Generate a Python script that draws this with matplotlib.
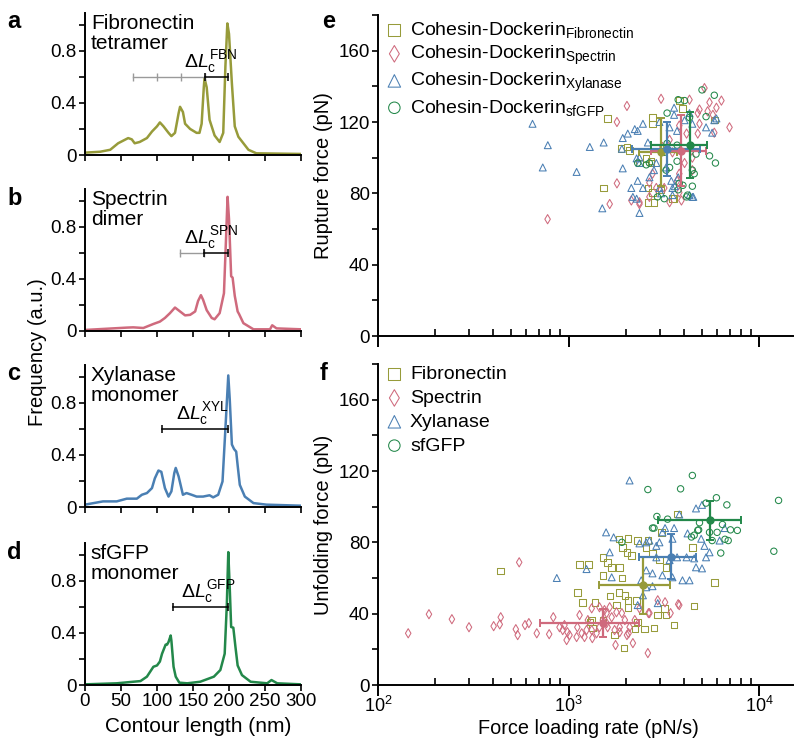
"""
Contour length histograms (a-d) and force vs loading rate scatter (e, f).
"""
import matplotlib
matplotlib.use("Agg")
import matplotlib.pyplot as plt
from matplotlib.ticker import MultipleLocator, LogLocator, NullFormatter

plt.rcParams["font.family"] = ["Liberation Sans", "DejaVu Sans"]
plt.rcParams["mathtext.fontset"] = "custom"
plt.rcParams["mathtext.rm"] = "Liberation Sans"
plt.rcParams["mathtext.it"] = "Liberation Sans:italic"
plt.rcParams["mathtext.bf"] = "Liberation Sans:bold"

OLIVE = "#979b3a"
PINK = "#cf6a7d"
BLUE = "#4a7fb3"
GREEN = "#23884a"

# ---- contour length histograms (nm, a.u.) ----
fbn_x = [0, 21, 35, 46, 60, 65, 69, 76, 86, 93, 100, 104, 109, 116, 120, 125,
         130, 132, 136, 139, 146, 155, 159, 162, 165, 166, 169, 173, 180, 187,
         192, 195, 197.7, 200, 204, 208, 213, 220, 227, 238, 300]
fbn_y = [0.018, 0.025, 0.04, 0.09, 0.13, 0.12, 0.09, 0.10, 0.13, 0.18, 0.22,
         0.25, 0.22, 0.17, 0.145, 0.17, 0.32, 0.37, 0.33, 0.24, 0.20, 0.17,
         0.17, 0.24, 0.52, 0.59, 0.52, 0.27, 0.15, 0.10, 0.17, 0.68, 1.01,
         0.93, 0.55, 0.22, 0.14, 0.09, 0.04, 0.013, 0.008]

spn_x = [0, 58, 67, 81, 95, 104, 111, 118, 125, 132, 139, 146, 153, 157, 161,
         164, 169, 176, 180, 187, 193, 196, 198, 200, 203, 205, 208, 212, 214,
         220, 234, 257, 260, 266, 300]
spn_y = [0.008, 0.026, 0.028, 0.023, 0.054, 0.072, 0.10, 0.137, 0.18, 0.15,
         0.12, 0.124, 0.15, 0.23, 0.275, 0.24, 0.16, 0.10, 0.09, 0.137, 0.29,
         0.73, 1.03, 0.86, 0.42, 0.41, 0.27, 0.15, 0.13, 0.06, 0.013, 0.013,
         0.044, 0.02, 0.013]

xyl_x = [0, 25, 44, 58, 72, 79, 86, 93, 97, 102, 106, 111, 116, 120, 124, 126,
         130, 136, 141, 148, 155, 164, 173, 178, 185, 191, 195, 199, 201, 204,
         207, 210, 212, 215, 222, 234, 252, 300]
xyl_y = [0.018, 0.043, 0.043, 0.064, 0.064, 0.094, 0.107, 0.145, 0.22, 0.28,
         0.27, 0.145, 0.08, 0.12, 0.26, 0.30, 0.235, 0.094, 0.107, 0.094, 0.08,
         0.08, 0.09, 0.074, 0.094, 0.196, 0.60, 1.01, 0.83, 0.48, 0.445, 0.425,
         0.32, 0.17, 0.08, 0.03, 0.018, 0.01]

gfp_x = [0, 44, 67, 77, 86, 95, 100, 104, 107, 112, 114, 116, 119, 120, 123,
         126, 131, 142, 160, 179, 188, 194, 197, 199, 201, 203, 206, 209, 212,
         218, 230, 253, 259, 267, 300]
gfp_y = [0.005, 0.013, 0.025, 0.03, 0.064, 0.14, 0.15, 0.18, 0.24, 0.31, 0.31,
         0.33, 0.38, 0.34, 0.14, 0.064, 0.018, 0.013, 0.025, 0.064, 0.115,
         0.24, 0.62, 1.02, 0.75, 0.445, 0.44, 0.29, 0.15, 0.076, 0.025, 0.013,
         0.038, 0.013, 0.005]

# delta Lc markers (nm): grey = earlier domains, black = last one
fbn_grey = [67, 100, 133, 166]
fbn_black = [166, 199]
spn_grey = [132, 165]
spn_black = [165, 198]
xyl_black = [107, 199]
gfp_black = [122, 199]

# ---- panel e: rupture force (pN) vs loading rate (pN/s) ----
e_fbn_rate = [1525, 1600, 1880, 2020, 2085, 2350, 2550, 2600, 2700, 2750, 2750,
              2750, 2800, 3050, 3240, 3500, 3570, 3800, 3950, 5800, 2700, 2600]
e_fbn_force = [83, 122, 105, 106, 104, 97, 99.6, 83, 97, 80.5, 119, 122.5, 75,
               82, 106, 77, 77, 132, 127.5, 121, 98, 75]
e_spn_rate = [775, 1640, 1790, 1790, 2020, 2130, 2350, 2650, 2750, 2880, 3050,
              3100, 3170, 3380, 3380, 3500, 3700, 3800, 3800, 3800, 3900, 4050,
              4150, 4300, 4450, 4450, 4750, 4750, 4850, 4850, 5150, 5350, 5475,
              5700, 5800, 5950, 6320, 6970, 2650, 2350]
e_spn_force = [65.5, 74, 85.6, 120, 129, 76, 75, 78, 91, 83, 133, 106, 83, 75,
               110, 103, 87, 80.5, 91, 118, 76, 97, 113.5, 132.5, 93, 100,
               113.5, 125, 119, 127, 139, 126, 131, 124, 114, 128, 132, 117,
               86, 74]
e_xyl_rate = [646, 777, 731, 1100, 1290, 1525, 1920, 2040, 1920, 2220, 2450,
              1900, 2350, 2300, 2990, 3570, 4050, 4300, 3380, 3700, 5250, 5800,
              5650, 4450, 2600, 2270, 2350, 2880, 3240, 2300, 2450, 2130, 2170,
              2270, 1500, 2350, 2990, 3500, 3500, 4300, 4450, 3050, 3750, 3450,
              5950, 3570, 2800, 2650, 4500, 3600]
e_xyl_force = [119, 107, 94.5, 92, 106, 108.5, 111, 113.5, 94, 116, 119, 105,
               100, 115, 120, 124, 121, 125, 117, 115, 117, 121, 114, 119,
               108.5, 99.6, 97, 97, 94.5, 87, 83, 83, 78, 77, 71.6, 69, 83, 83,
               79, 79, 78, 80, 89, 87, 122, 128, 93, 89, 78, 84]
e_gfp_rate = [3750, 5000, 5800, 5250, 4650, 5475, 5880, 4550, 3700, 3970, 2300,
              2550, 3240, 4050, 3280, 4300, 3380, 4450, 4200, 3800, 3750, 3170,
              2920, 3280, 3700, 3170, 2650, 4150, 4450]
e_gfp_force = [132.5, 138, 135, 123, 102, 101, 97, 91, 98, 84.5, 97, 96, 93,
               132, 125, 122.5, 94.5, 93, 79, 85.6, 82, 77, 78, 108, 107, 103,
               97, 78, 84]

# means with error bars: rate, force, rate low, rate high, force sd
e_means_rate = [3050, 3900, 3260, 4300]
e_means_force = [103, 104, 105, 107]
e_rate_lo = [2350, 2700, 2150, 2700]
e_rate_hi = [3700, 5250, 4900, 5300]
e_force_err = [19, 20, 15, 18.5]

# ---- panel f: unfolding force (pN) vs loading rate (pN/s) ----
f_fbn_rate = [440, 1110, 1140, 1180, 1270, 1290, 1320, 1330, 1370, 1510, 1510,
              1510, 1600, 1650, 1680, 1740, 1780, 1830, 1830, 1850, 1900, 1920,
              1950, 1970, 2020, 2040, 2040, 2040, 2130, 2220, 2270, 2300, 2300,
              2500, 2550, 2600, 2750, 2800, 2930, 2990, 3070, 3170, 3240, 3240,
              3570, 3720, 4450, 4550, 5800]
f_fbn_force = [63.8, 52, 67.7, 46.4, 67.7, 35.2, 36.4, 31.9, 46.4, 71.6, 61.5,
               36.4, 68.8, 49.8, 66, 28, 44.8, 52, 82, 66, 60, 77, 20.7, 50.3,
               74.4, 47.5, 43.6, 82.2, 72.7, 31.3, 47.5, 81, 35.2, 31.3, 77, 81,
               73.8, 31.9, 39.2, 70, 85.6, 43, 39.2, 66, 33.6, 96, 77, 44.2,
               57.6]
f_spn_rate = [144, 185, 244, 300, 404, 435, 440, 528, 540, 550, 590, 618, 680,
              790, 830, 895, 930, 950, 975, 985, 1010, 1100, 1110, 1140, 1170,
              1210, 1240, 1260, 1320, 1320, 1330, 1400, 1450, 1450, 1510, 1540,
              1580, 1580, 1600, 1640, 1680, 1740, 1760, 1780, 1850, 1850, 1900,
              1970, 2020, 2060, 2085, 2170, 2220, 2350, 2600, 2620, 2650, 2930,
              3200, 3420, 3750, 3800]
f_spn_force = [29, 39.7, 36.9, 32.4, 33, 34, 38, 31.3, 28, 68.8, 33.6, 34.7,
               29, 28.5, 38, 32.4, 30.8, 33.6, 25.2, 29.6, 28, 26.9, 32.4, 39.2,
               29, 26.9, 30.8, 36.4, 30.8, 43, 26.3, 29, 32.4, 43.6, 36.4, 42,
               40.3, 34.7, 32.4, 43.6, 38, 30.8, 22.4, 40.8, 32.4, 29.6, 40.3,
               36.4, 28, 29, 32.4, 23.5, 36.4, 43, 17.9, 40.3, 40.3, 47.5, 46.4,
               40.3, 45.3, 44.8]
f_xyl_rate = [866, 1240, 1570, 1640, 1680, 1720, 2085, 2300, 2350, 2400, 2450,
              2550, 2550, 2550, 2750, 2750, 2880, 2880, 2930, 2990, 3100, 3100,
              3200, 3380, 3500, 3500, 3570, 3700, 3800, 3950, 4150, 4200, 4300,
              4550, 4650, 4650, 4950, 5000, 5000, 5150, 5475, 6180, 6570, 2650,
              5250]
f_xyl_force = [60, 65, 85.6, 74.4, 60.4, 82.8, 114.7, 44.8, 79.4, 58.7, 50.3,
               80, 64.3, 54.8, 62.6, 55.4, 78, 71.6, 45.9, 80, 85.6, 61.5, 88,
               70, 82, 60.4, 88, 71.6, 95.6, 58.7, 71.6, 85, 58.7, 71, 99, 66,
               82, 101, 65.4, 78, 74.4, 81, 88, 81, 71.6]
f_gfp_rate = [1900, 2600, 2750, 2800, 2900, 3860, 4450, 4400, 4550, 4750, 4800,
              4850, 5250, 5475, 5650, 5950, 6000, 6270, 6400, 6600, 6750, 6860,
              7050, 7660, 11900, 12600, 3300]
f_gfp_force = [80, 109.6, 88, 88, 94.5, 110, 117.5, 83, 84, 86.7, 87, 91, 102,
               85.6, 81, 105, 85.6, 74, 90, 81.7, 101, 81, 87, 86.7, 75, 103.5,
               93]

f_means_rate = [2450, 1510, 3430, 5475]
f_means_force = [56, 34.7, 72, 92.3]
f_rate_lo = [1450, 705, 2350, 2930]
f_rate_hi = [3380, 2350, 4650, 8050]
f_force_err = [16, 8, 12.5, 11]

series_colors = [OLIVE, PINK, BLUE, GREEN]
series_markers = ["s", "d", "^", "o"]
series_sizes = [22, 22, 25, 21]
e_labels = [
    r"Cohesin-Dockerin$_{\mathrm{Fibronectin}}$",
    r"Cohesin-Dockerin$_{\mathrm{Spectrin}}$",
    r"Cohesin-Dockerin$_{\mathrm{Xylanase}}$",
    r"Cohesin-Dockerin$_{\mathrm{sfGFP}}$",
]
f_labels = ["Fibronectin", "Spectrin", "Xylanase", "sfGFP"]


def px_rect(left, top, right, bottom):
    """Converts pixel box of the 800x744 canvas to a figure rect."""
    return [left / 800, 1 - bottom / 744, (right - left) / 800,
            (bottom - top) / 744]


def style_hist_axis(ax, show_labels):
    ax.set_xlim(0, 300)
    ax.set_ylim(0, 1.09)
    for side in ["top", "right"]:
        ax.spines[side].set_visible(False)
    for side in ["left", "bottom"]:
        ax.spines[side].set_linewidth(1.4)
    ax.xaxis.set_major_locator(MultipleLocator(50))
    ax.yaxis.set_minor_locator(MultipleLocator(0.2))
    ax.set_yticks([0, 0.4, 0.8])
    ax.set_yticklabels(["0", "0.4", "0.8"])
    ax.tick_params(which="both", direction="out", length=4, width=1.2,
                   labelsize=13.5, pad=2)
    if not show_labels:
        ax.tick_params(axis="x", labelbottom=False)


def plot_hist(ax, xs, ys, color, name, grey, black, label, label_x):
    ax.plot(xs, ys, color=color, lw=1.8)
    if grey:
        ax.plot(grey, [0.6] * len(grey), color="#9a9a9a", lw=1.0,
                marker="|", ms=6, mew=1.0)
    ax.plot(black, [0.6] * len(black), color="black", lw=1.1,
            marker="|", ms=6, mew=1.1)
    ax.text(8, 1.085, name, fontsize=15, va="top", ha="left",
            linespacing=1.12)
    ax.text(label_x, 0.615, label, fontsize=14, va="bottom", ha="left")


def style_force_axis(ax, show_labels):
    ax.set_xscale("log")
    ax.set_xlim(100, 15000)
    ax.set_ylim(0, 180)
    for side in ["top", "right"]:
        ax.spines[side].set_visible(False)
    for side in ["left", "bottom"]:
        ax.spines[side].set_linewidth(1.4)
    ax.yaxis.set_major_locator(MultipleLocator(40))
    ax.yaxis.set_minor_locator(MultipleLocator(20))
    ax.xaxis.set_major_locator(LogLocator(base=10, numticks=10))
    ax.xaxis.set_minor_locator(LogLocator(base=10, subs=range(2, 10),
                                          numticks=10))
    ax.xaxis.set_minor_formatter(NullFormatter())
    ax.tick_params(axis="y", which="both", direction="out", length=4,
                   width=1.2, labelsize=13.5, pad=2)
    ax.tick_params(axis="x", which="major", direction="out", length=8,
                   width=1.4, labelsize=13, pad=0)
    ax.tick_params(axis="x", which="minor", direction="in", length=5,
                   width=1.2)
    if not show_labels:
        ax.tick_params(axis="x", labelbottom=False)


def plot_force(ax, rates, forces, means, labels, legend_spacing, legend_y):
    mr, mf, lo, hi, err = means
    for i in range(4):
        ax.scatter(rates[i], forces[i], s=series_sizes[i],
                   marker=series_markers[i], facecolors="none",
                   edgecolors=series_colors[i], linewidths=0.75,
                   label=labels[i], zorder=2)
    for i in range(4):
        ax.errorbar(mr[i], mf[i],
                    xerr=[[mr[i] - lo[i]], [hi[i] - mr[i]]],
                    yerr=err[i], fmt="o", ms=5, color=series_colors[i],
                    ecolor=series_colors[i], elinewidth=1.6, capsize=3,
                    capthick=1.4, zorder=3)
    ax.legend(loc="upper left", bbox_to_anchor=(0.016, legend_y),
              frameon=False, fontsize=14, markerscale=1.8, handlelength=1.0,
              handletextpad=0.3, borderpad=0, borderaxespad=0,
              labelspacing=legend_spacing, scatterpoints=1)


def main():
    fig = plt.figure(figsize=(8, 7.44), dpi=100)

    ax_a = fig.add_axes(px_rect(85, 13, 301, 155))
    ax_b = fig.add_axes(px_rect(85, 189, 301, 331))
    ax_c = fig.add_axes(px_rect(85, 365, 301, 507))
    ax_d = fig.add_axes(px_rect(85, 543, 301, 685))

    plot_hist(ax_a, fbn_x, fbn_y, OLIVE, "Fibronectin\ntetramer", fbn_grey,
              fbn_black, r"$\Delta L_{\mathrm{c}}^{\mathrm{FBN}}$", 138)
    plot_hist(ax_b, spn_x, spn_y, PINK, "Spectrin\ndimer", spn_grey,
              spn_black, r"$\Delta L_{\mathrm{c}}^{\mathrm{SPN}}$", 137)
    plot_hist(ax_c, xyl_x, xyl_y, BLUE, "Xylanase\nmonomer", None,
              xyl_black, r"$\Delta L_{\mathrm{c}}^{\mathrm{XYL}}$", 126)
    plot_hist(ax_d, gfp_x, gfp_y, GREEN, "sfGFP\nmonomer", None,
              gfp_black, r"$\Delta L_{\mathrm{c}}^{\mathrm{GFP}}$", 133)
    for ax in [ax_a, ax_b, ax_c]:
        style_hist_axis(ax, False)
    style_hist_axis(ax_d, True)
    ax_d.set_xlabel("Contour length (nm)", fontsize=15)
    ax_d.xaxis.set_label_coords(0.523, -0.225)

    ax_e = fig.add_axes(px_rect(378, 15, 793, 336))
    ax_f = fig.add_axes(px_rect(378, 364, 793, 685))
    plot_force(ax_e,
               [e_fbn_rate, e_spn_rate, e_xyl_rate, e_gfp_rate],
               [e_fbn_force, e_spn_force, e_xyl_force, e_gfp_force],
               (e_means_rate, e_means_force, e_rate_lo, e_rate_hi,
                e_force_err), e_labels, 0.2, 0.985)
    plot_force(ax_f,
               [f_fbn_rate, f_spn_rate, f_xyl_rate, f_gfp_rate],
               [f_fbn_force, f_spn_force, f_xyl_force, f_gfp_force],
               (f_means_rate, f_means_force, f_rate_lo, f_rate_hi,
                f_force_err), f_labels, 0.32, 0.995)
    style_force_axis(ax_e, False)
    style_force_axis(ax_f, True)
    ax_e.set_ylabel("Rupture force (pN)", fontsize=14.5)
    ax_f.set_ylabel("Unfolding force (pN)", fontsize=14.5)
    ax_e.yaxis.set_label_coords(-0.108, 0.5)
    ax_f.yaxis.set_label_coords(-0.108, 0.5)
    ax_f.set_xlabel("Force loading rate (pN/s)", fontsize=14.3)
    ax_f.xaxis.set_label_coords(0.506, -0.107)

    fig.text(38 / 800, 1 - 352 / 744, "Frequency (a.u.)", fontsize=14.5,
             rotation=90, ha="center", va="center")

    letters = [("a", 7, 28), ("b", 7, 205), ("c", 7, 380), ("d", 7, 559),
               ("e", 322, 28), ("f", 320, 380)]
    for letter, x, y in letters:
        fig.text(x / 800, 1 - y / 744, letter, fontsize=17,
                 fontweight="bold", va="baseline", ha="left")

    fig.savefig("out.png", dpi=100)


if __name__ == "__main__":
    main()
